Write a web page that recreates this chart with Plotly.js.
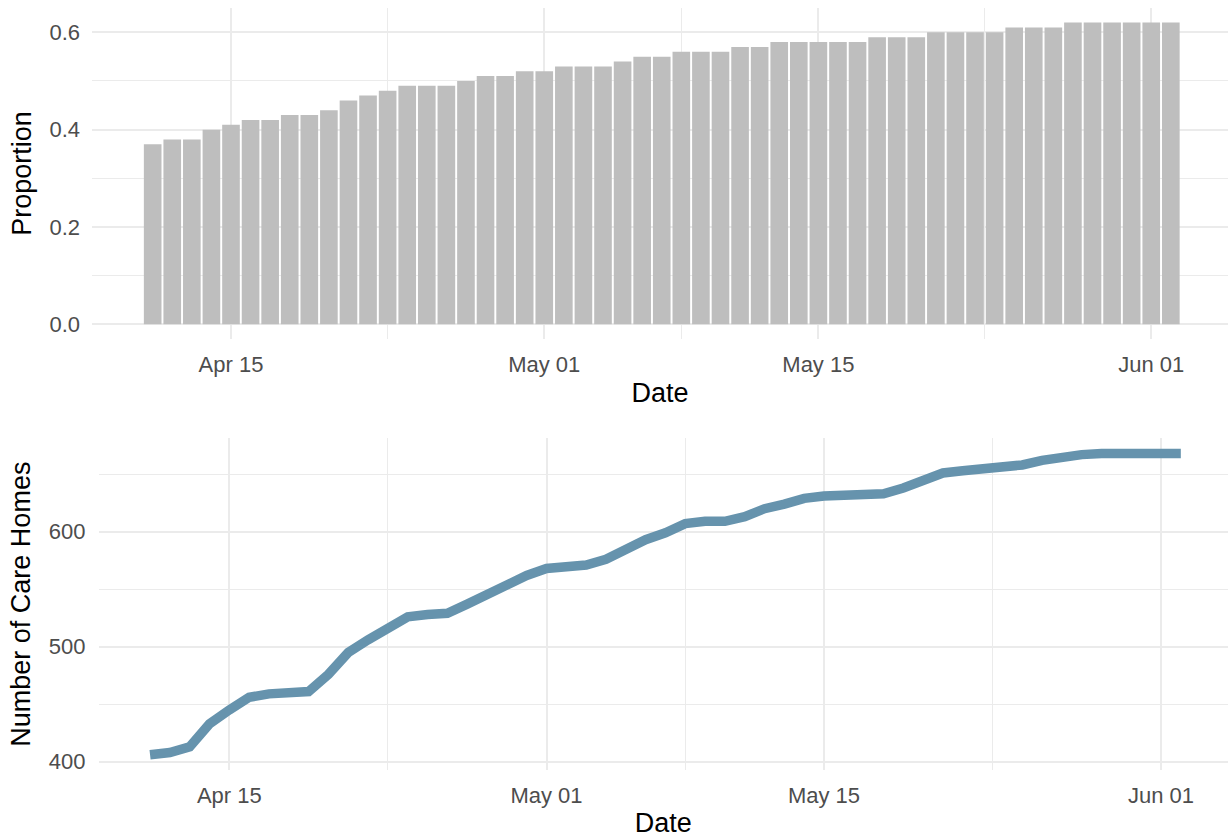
<!DOCTYPE html>
<html>
<head>
<meta charset="utf-8">
<script src="https://cdn.plot.ly/plotly-3.0.1.min.js"></script>
<style>
  html, body { margin: 0; padding: 0; background: #ffffff; }
  #chart { width: 1228px; height: 840px; }
</style>
</head>
<body>
<div id="chart"></div>
<script>
// ---- data ----
const dates = [
  "2020-04-11","2020-04-12","2020-04-13","2020-04-14","2020-04-15","2020-04-16","2020-04-17",
  "2020-04-18","2020-04-19","2020-04-20","2020-04-21","2020-04-22","2020-04-23","2020-04-24",
  "2020-04-25","2020-04-26","2020-04-27","2020-04-28","2020-04-29","2020-04-30","2020-05-01",
  "2020-05-02","2020-05-03","2020-05-04","2020-05-05","2020-05-06","2020-05-07","2020-05-08",
  "2020-05-09","2020-05-10","2020-05-11","2020-05-12","2020-05-13","2020-05-14","2020-05-15",
  "2020-05-16","2020-05-17","2020-05-18","2020-05-19","2020-05-20","2020-05-21","2020-05-22",
  "2020-05-23","2020-05-24","2020-05-25","2020-05-26","2020-05-27","2020-05-28","2020-05-29",
  "2020-05-30","2020-05-31","2020-06-01","2020-06-02"
];
const proportion = [
  0.37,0.38,0.38,0.40,0.41,0.42,0.42,
  0.43,0.43,0.44,0.46,0.47,0.48,0.49,
  0.49,0.49,0.50,0.51,0.51,0.52,0.52,
  0.53,0.53,0.53,0.54,0.55,0.55,0.56,
  0.56,0.56,0.57,0.57,0.58,0.58,0.58,
  0.58,0.58,0.59,0.59,0.59,0.60,0.60,
  0.60,0.60,0.61,0.61,0.61,0.62,0.62,
  0.62,0.62,0.62,0.62
];
const careHomes = [
  406,408,413,433,445,456,459,
  461,461,476,495,506,516,526,
  528,529,537,546,554,562,568,
  569,571,576,585,593,599,607,
  609,609,613,620,624,629,631,
  631,631,633,638,644,651,653,
  655,655,658,662,665,667,668,
  668,668,668,668
];
const dateTicks = ["2020-04-15","2020-05-01","2020-05-15","2020-06-01"];
const dateMinor = ["2020-04-23","2020-05-08","2020-05-23 12:00"];
const propTicks = [0, 0.2, 0.4, 0.6];
const homeTicks = [400, 500, 600];

// ---- styles ----
const W = 1228, H = 840;
const gridCol = "#EBEBEB";
const tickFont = {family: "Liberation Sans, Arial, sans-serif", size: 22, color: "#4D4D4D"};
const titleFont = {family: "Liberation Sans, Arial, sans-serif", size: 27, color: "#000000"};
const DAY = 86400000;

const traces = [
  {
    type: "bar", x: dates, y: proportion, width: 0.9 * DAY,
    marker: {color: "#BEBEBE", line: {width: 0}},
    xaxis: "x", yaxis: "y", hoverinfo: "x+y", showlegend: false
  },
  {
    type: "scatter", mode: "lines", x: dates, y: careHomes,
    line: {color: "#6693AD", width: 9.5},
    xaxis: "x2", yaxis: "y2", hoverinfo: "x+y", showlegend: false
  }
];

function xAxis(domain, range) {
  return {
    domain: domain, type: "date", range: range,
    tickmode: "array", tickvals: dateTicks, tickformat: "%b %d",
    showgrid: true, gridcolor: gridCol, gridwidth: 2,
    minor: {tickmode: "array", tickvals: dateMinor, showgrid: true, gridcolor: gridCol, gridwidth: 1},
    zeroline: false, showline: false, ticks: "", ticklabelstandoff: 10,
    tickfont: tickFont, automargin: false,
    title: {text: "Date", font: titleFont, standoff: 6}
  };
}

const layout = {
  width: W, height: H,
  margin: {l: 0, r: 0, t: 0, b: 0, pad: 0},
  paper_bgcolor: "#ffffff", plot_bgcolor: "#ffffff",
  showlegend: false,
  xaxis: Object.assign(xAxis([92.1 / W, 1], ["2020-04-07 21:45", "2020-06-04 22:05"]), {anchor: "y"}),
  yaxis: {
    domain: [1 - 339.4 / H, 1 - 7.5 / H], anchor: "x",
    range: [-0.031, 0.651], tickmode: "array", tickvals: propTicks, tickformat: ".1f",
    showgrid: true, gridcolor: gridCol, gridwidth: 2,
    minor: {dtick: 0.1, showgrid: true, gridcolor: gridCol, gridwidth: 1},
    zeroline: false, showline: false, ticks: "", ticklabelstandoff: 11,
    tickfont: tickFont, automargin: false,
    title: {text: "Proportion", font: titleFont, standoff: 10}
  },
  xaxis2: Object.assign(xAxis([98.5 / W, 1], ["2020-04-08 09:36", "2020-06-04 09:07"]), {anchor: "y2"}),
  yaxis2: {
    domain: [1 - 769.9 / H, 1 - 438.4 / H], anchor: "x2",
    range: [392.9, 681.1], tickmode: "array", tickvals: homeTicks,
    showgrid: true, gridcolor: gridCol, gridwidth: 2,
    minor: {dtick: 50, showgrid: true, gridcolor: gridCol, gridwidth: 1},
    zeroline: false, showline: false, ticks: "", ticklabelstandoff: 12,
    tickfont: tickFont, automargin: false,
    title: {text: "Number of Care Homes", font: titleFont, standoff: 10}
  }
};

Plotly.newPlot("chart", traces, layout, {displayModeBar: false, staticPlot: true});
</script>
</body>
</html>
